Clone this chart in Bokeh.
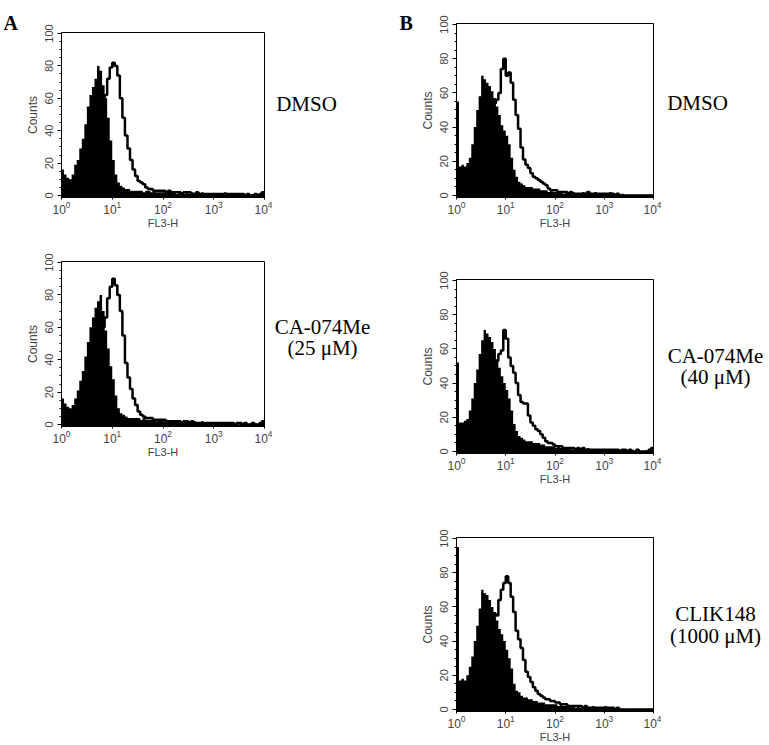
import numpy as np
from bokeh.plotting import figure
from bokeh.layouts import row, column
from bokeh.models import Range1d, FixedTicker, SingleIntervalTicker, Spacer
from bokeh.core.properties import value
from bokeh.embed import file_html
from bokeh.resources import INLINE

# ---------------- data: counts per channel (80 channels, 0.05 decade each, 10^0 .. 10^4)
a1_filled = [16, 13, 11, 10, 13, 19, 22, 29, 35, 44,
             55, 62, 67, 72, 80, 77, 68, 60, 48, 34,
             22, 13, 8, 6, 5, 4, 4, 3, 3, 3,
             3, 3, 2, 3, 3, 2, 3, 2, 2, 2,
             2, 2, 3, 2, 2, 1, 2, 2, 1, 2,
             1, 2, 1, 1, 1, 2, 1, 1, 1, 1,
             1, 1, 1, 1, 2, 1, 1, 1, 1, 1,
             1, 1, 0, 1, 0, 1, 0, 0, 1, 2]
a1_outline = [8, 6, 5, 5, 6, 8, 10, 12, 15, 18,
              22, 27, 33, 40, 47, 53, 57, 62, 72, 79,
              82, 80, 74, 60, 48, 37, 29, 22, 16, 12,
              9, 8, 7, 5, 4, 4, 3, 3, 3, 3,
              3, 2, 3, 2, 2, 2, 2, 1, 2, 2,
              2, 1, 1, 2, 1, 1, 1, 1, 1, 1,
              1, 1, 1, 1, 1, 1, 1, 1, 1, 1,
              1, 1, 0, 1, 0, 0, 1, 0, 1, 2]
a2_filled = [16, 13, 11, 10, 12, 16, 21, 27, 33, 42,
             51, 60, 66, 72, 76, 80, 70, 58, 47, 36,
             28, 18, 10, 7, 6, 5, 4, 4, 4, 4,
             4, 3, 4, 3, 3, 3, 3, 2, 3, 3,
             2, 3, 2, 2, 2, 2, 2, 1, 2, 2,
             2, 1, 2, 1, 1, 2, 1, 1, 1, 1,
             1, 1, 1, 1, 1, 1, 1, 1, 1, 0,
             1, 0, 1, 0, 0, 1, 0, 0, 1, 2]
a2_outline = [8, 6, 5, 5, 6, 8, 10, 12, 15, 19,
              23, 28, 34, 42, 50, 56, 60, 66, 78, 85,
              90, 86, 80, 70, 55, 38, 29, 22, 16, 12,
              8, 6, 5, 4, 4, 4, 3, 3, 3, 3,
              3, 2, 2, 2, 2, 2, 2, 1, 2, 2,
              1, 2, 1, 1, 1, 1, 1, 1, 1, 1,
              1, 1, 1, 1, 1, 1, 1, 1, 0, 1,
              1, 0, 1, 0, 0, 1, 0, 0, 1, 2]
b1_filled = [55, 17, 18, 17, 19, 22, 30, 40, 50, 58,
             70, 68, 66, 64, 61, 57, 52, 47, 41, 38,
             35, 30, 22, 15, 11, 8, 7, 6, 5, 5,
             5, 4, 4, 4, 3, 3, 3, 2, 3, 2,
             2, 2, 2, 1, 2, 2, 1, 2, 1, 1,
             1, 2, 1, 1, 1, 1, 2, 1, 1, 1,
             1, 1, 2, 1, 1, 1, 0, 1, 0, 0,
             0, 0, 0, 0, 0, 0, 0, 0, 0, 0]
b1_outline = [8, 7, 6, 6, 7, 9, 12, 15, 19, 24,
              30, 35, 41, 47, 52, 54, 56, 60, 74, 80,
              70, 72, 66, 56, 47, 39, 28, 21, 18, 16,
              13, 11, 10, 9, 8, 7, 6, 4, 3, 3,
              3, 2, 2, 2, 2, 1, 2, 1, 1, 1,
              1, 1, 1, 2, 1, 1, 1, 1, 1, 1,
              1, 1, 1, 1, 0, 1, 0, 0, 0, 0,
              0, 0, 0, 0, 0, 0, 0, 0, 0, 0]
b2_filled = [52, 17, 17, 18, 19, 24, 31, 40, 48, 57,
             65, 71, 69, 67, 64, 60, 54, 49, 44, 40,
             36, 31, 24, 16, 12, 9, 8, 7, 6, 6,
             6, 5, 5, 5, 4, 4, 3, 3, 3, 3,
             2, 3, 2, 2, 2, 2, 2, 1, 2, 1,
             2, 1, 1, 2, 1, 1, 1, 1, 1, 1,
             1, 1, 1, 1, 1, 1, 1, 1, 1, 0,
             1, 1, 0, 1, 0, 0, 0, 0, 1, 2]
b2_outline = [8, 7, 6, 6, 7, 9, 12, 15, 19, 24,
              29, 34, 40, 45, 50, 52, 53, 57, 59, 71,
              66, 55, 50, 46, 40, 33, 29, 28, 28, 21,
              17, 15, 13, 12, 10, 8, 6, 5, 5, 4,
              3, 3, 3, 2, 2, 2, 2, 2, 1, 2,
              1, 2, 1, 1, 1, 1, 1, 1, 1, 1,
              1, 1, 1, 1, 1, 1, 0, 1, 1, 0,
              1, 0, 0, 1, 0, 0, 0, 0, 1, 2]
b3_filled = [95, 17, 18, 17, 20, 25, 31, 40, 49, 59,
             70, 68, 67, 64, 60, 57, 52, 47, 44, 40,
             35, 30, 24, 15, 11, 10, 8, 7, 7, 6,
             6, 5, 5, 4, 4, 4, 3, 3, 3, 3,
             3, 2, 3, 2, 2, 2, 2, 2, 1, 2,
             1, 2, 1, 1, 1, 2, 1, 1, 1, 1,
             2, 1, 1, 1, 0, 1, 0, 0, 0, 0,
             0, 0, 0, 0, 0, 0, 0, 0, 0, 0]
b3_outline = [8, 7, 6, 6, 7, 9, 12, 15, 19, 24,
              30, 36, 42, 48, 54, 56, 55, 64, 70, 74,
              78, 74, 66, 57, 46, 41, 36, 29, 22, 19,
              16, 13, 11, 9, 8, 7, 6, 6, 5, 5,
              4, 4, 3, 3, 3, 2, 2, 2, 2, 2,
              2, 1, 2, 1, 1, 1, 1, 1, 1, 1,
              1, 1, 1, 1, 0, 1, 0, 0, 0, 0,
              0, 0, 0, 0, 0, 0, 0, 0, 0, 0]

x_ticks = [1, 10, 100, 1000, 10000]
y_ticks_interval = 20
labels_a = [["DMSO"], ["CA-074Me", "(25 μM)"]]
labels_b = [["DMSO"], ["CA-074Me", "(40 μM)"], ["CLIK148", "(1000 μM)"]]

# channel edges (FACS log scale, 4 decades in 80 channels)
n_ch = len(a1_filled)
edges = 10 ** (np.arange(n_ch + 1) * 4.0 / n_ch)

Y_LO, Y_HI = -1.2, 100.6
SANS = "Liberation Sans"
SERIF = "Liberation Serif"
BOTTOM = 34


def panel(filled, outline, fw, fh, top):
    p = figure(x_axis_type="log", x_range=Range1d(1, 10 ** 4), y_range=Range1d(Y_LO, Y_HI),
               frame_width=fw, frame_height=fh, min_border_left=37, min_border_right=8,
               min_border_top=top, min_border_bottom=BOTTOM,
               toolbar_location=None, output_backend="svg")
    yf = list(filled) + [filled[-1]]
    yo = list(outline) + [outline[-1]]
    p.varea_step(x=edges, y1=[Y_LO] * len(edges), y2=yf, step_mode="after",
                 fill_color="black", fill_alpha=1)
    p.step(x=edges, y=yo, mode="after", line_color="black", line_width=2.5)
    p.grid.visible = False
    p.outline_line_color = "black"
    p.outline_line_width = 1
    p.outline_line_alpha = 1
    p.background_fill_color = "white"

    xa = p.xaxis[0]
    xa.ticker = FixedTicker(ticks=x_ticks,
                            minor_ticks=[m * 10 ** d for d in range(4) for m in range(2, 10)])
    xa.axis_label = "FL3-H"
    xa.axis_label_text_font = SANS
    xa.axis_label_text_font_style = "normal"
    xa.axis_label_text_font_size = "11px"
    xa.axis_label_standoff = 0
    xa.major_label_text_font = SANS
    xa.major_label_text_font_size = "12px"
    xa.major_label_standoff = 1
    xa.major_tick_in = 3
    xa.major_tick_out = 2
    xa.minor_tick_in = 3
    xa.minor_tick_out = 0
    xa.axis_line_color = "black"
    xa.major_tick_line_color = "black"
    xa.minor_tick_line_color = "black"

    ya = p.yaxis[0]
    ya.ticker = SingleIntervalTicker(interval=y_ticks_interval, num_minor_ticks=4)
    ya.axis_label = "Counts"
    ya.axis_label_text_font = SANS
    ya.axis_label_text_font_style = "normal"
    ya.axis_label_text_font_size = "12px"
    ya.axis_label_standoff = 3
    ya.major_label_text_font = SANS
    ya.major_label_text_font_size = "11px"
    ya.major_label_orientation = "vertical"
    ya.major_label_standoff = 4
    ya.major_tick_in = 0
    ya.major_tick_out = 4
    ya.minor_tick_in = 0
    ya.minor_tick_out = 2
    ya.axis_line_color = "black"
    ya.major_tick_line_color = "black"
    ya.minor_tick_line_color = "black"
    return p


def text_fig(w, h):
    t = figure(width=w, height=h, x_range=Range1d(0, w), y_range=Range1d(h, 0),
               min_border=0, toolbar_location=None, output_backend="svg",
               x_axis_location=None, y_axis_location=None)
    t.outline_line_color = None
    t.grid.visible = False
    return t


H = 745
# panel letter A
tA = text_fig(22, H)
tA.text(x=[3], y=[22], text=["A"], text_font=value(SERIF), text_font_style="bold",
        text_font_size="20px", text_align="left", text_baseline="alphabetic")

figA1 = panel(a1_filled, a1_outline, 203, 165, 32)
figA2 = panel(a2_filled, a2_outline, 203, 165, 10)
colA = column(figA1, Spacer(width=10, height=20), figA2)

# middle text: A labels + letter B
tM = text_fig(145, H)
tM.text(x=[34, 50, 50], y=[103, 326, 347],
        text=[labels_a[0][0], labels_a[1][0], labels_a[1][1]],
        text_font=value(SERIF), text_font_size="21px", text_align="center",
        text_baseline="middle")
tM.text(x=[127], y=[22], text=["B"], text_font=value(SERIF), text_font_style="bold",
        text_font_size="20px", text_align="left", text_baseline="alphabetic")

figB1 = panel(b1_filled, b1_outline, 197, 174, 23)
figB2 = panel(b2_filled, b2_outline, 197, 174, 10)
figB3 = panel(b3_filled, b3_outline, 197, 174, 10)
colB = column(figB1, Spacer(width=10, height=38), figB2, Spacer(width=10, height=40), figB3)

tR = text_fig(112, H)
tR.text(x=[36, 54, 54, 54, 54], y=[102, 355, 376, 613, 635],
        text=[labels_b[0][0], labels_b[1][0], labels_b[1][1], labels_b[2][0], labels_b[2][1]],
        text_font=value(SERIF), text_font_size="21px", text_align="center",
        text_baseline="middle")

layout = row(tA, colA, tM, colB, tR)

open("out.html", "w").write(file_html(layout, INLINE))
